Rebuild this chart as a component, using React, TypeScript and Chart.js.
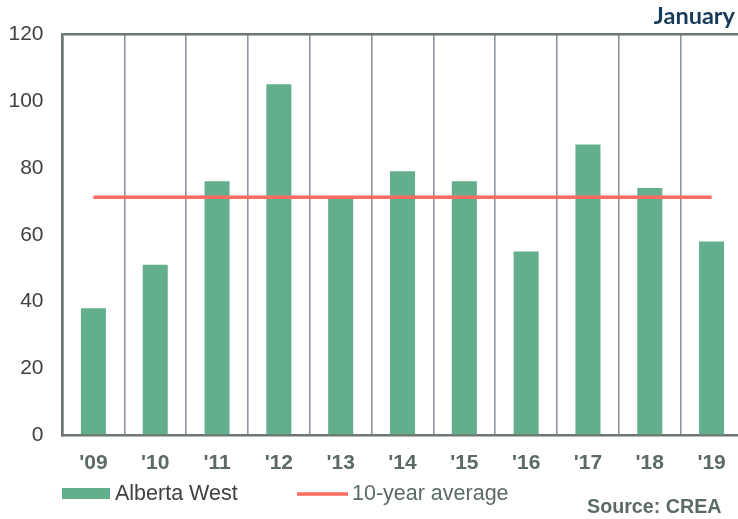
import React, { useEffect, useRef } from "react";
import { Chart, registerables } from "chart.js";

Chart.register(...registerables);

// Year labels and January values for Alberta West
const years = ["'09", "'10", "'11", "'12", "'13", "'14", "'15", "'16", "'17", "'18", "'19"];
const albertaWest = [38, 51, 76, 105, 71, 79, 76, 55, 87, 74, 58];
const tenYearAverage = [71.2, 71.2, 71.2, 71.2, 71.2, 71.2, 71.2, 71.2, 71.2, 71.2, 71.2];
const yTicks = [0, 20, 40, 60, 80, 100, 120];

const titleText = "January";
const sourceText = "Source: CREA";

const SANS = "'Liberation Sans', Arial, sans-serif";
const BAR_COLOR = "#62ae8d";
const LINE_COLOR = "#fe6b5f";
const FRAME_COLOR = "#6c7772";
const GRID_COLOR = "#8d95a1";
const LABEL_GREEN = "#5b6b63";

// Header, legend and source note drawn directly on the canvas
const decorations = {
  id: "decorations",
  afterDraw(chart: Chart) {
    const ctx = chart.ctx;
    const ds = chart.data.datasets;
    ctx.save();

    ctx.fillStyle = "#183a5a";
    ctx.font = "bold 23.5px Lato, 'Open Sans', sans-serif";
    ctx.textAlign = "right";
    ctx.textBaseline = "alphabetic";
    ctx.fillText(titleText, 735, 23.5);

    // legend: bar series
    ctx.fillStyle = ds[0].backgroundColor as string;
    ctx.fillRect(62, 488, 48, 11);
    ctx.font = "21.5px " + SANS;
    ctx.textAlign = "left";
    ctx.textBaseline = "middle";
    ctx.fillStyle = "#404040";
    ctx.fillText(String(ds[0].label), 115, 494);

    // legend: line series
    ctx.strokeStyle = ds[1].borderColor as string;
    ctx.lineWidth = 3.5;
    ctx.beginPath();
    ctx.moveTo(297, 494);
    ctx.lineTo(348, 494);
    ctx.stroke();
    ctx.fillStyle = LABEL_GREEN;
    ctx.fillText(String(ds[1].label), 352, 494);

    ctx.font = "bold 19.7px " + SANS;
    ctx.textBaseline = "alphabetic";
    ctx.fillText(sourceText, 587, 512.5);

    ctx.restore();
  },
};

export default function App() {
  const canvasRef = useRef<HTMLCanvasElement | null>(null);

  useEffect(() => {
    if (!canvasRef.current) return;
    const chart = new Chart(canvasRef.current, {
      type: "bar",
      data: {
        labels: years,
        datasets: [
          {
            type: "bar",
            label: "Alberta West",
            data: albertaWest,
            backgroundColor: BAR_COLOR,
            borderWidth: 0,
            barPercentage: 0.405,
            categoryPercentage: 1,
            order: 1,
          },
          {
            type: "line",
            label: "10-year average",
            data: tenYearAverage,
            borderColor: LINE_COLOR,
            borderWidth: 3.5,
            pointRadius: 0,
            fill: false,
            order: 0,
          },
        ],
      },
      options: {
        responsive: false,
        animation: false,
        layout: { padding: { top: 34, right: 3.5, bottom: 0, left: 0 } },
        plugins: {
          legend: { display: false },
          tooltip: { enabled: false },
          title: { display: false },
        },
        scales: {
          x: {
            offset: true,
            grid: {
              offset: true,
              drawTicks: false,
              color: GRID_COLOR,
              lineWidth: 1.6,
            },
            border: { display: true, color: FRAME_COLOR, width: 2.5 },
            ticks: {
              color: LABEL_GREEN,
              padding: 15,
              font: { family: SANS, size: 21, weight: "bold" },
            },
            afterFit(scale: any) {
              scale.height = 83.5;
            },
          },
          y: {
            min: 0,
            max: 120,
            afterBuildTicks(scale: any) {
              scale.ticks = yTicks.map((v) => ({ value: v }));
            },
            grid: {
              drawTicks: false,
              color: (c: any) => (c.tick && c.tick.value === 120 ? FRAME_COLOR : "rgba(0,0,0,0)"),
              lineWidth: 2.5,
            },
            border: { display: true, color: FRAME_COLOR, width: 2.5 },
            ticks: {
              color: "#404040",
              padding: 19,
              font: { family: SANS, size: 21 },
            },
            afterFit(scale: any) {
              scale.width = 62.5;
            },
          },
        },
      },
      plugins: [decorations],
    });
    return () => chart.destroy();
  }, []);

  return (
    <div style={{ position: "fixed", left: 0, top: 0, width: 746, height: 519, background: "#ffffff" }}>
      <canvas ref={canvasRef} width={746} height={519} style={{ display: "block" }} />
    </div>
  );
}
